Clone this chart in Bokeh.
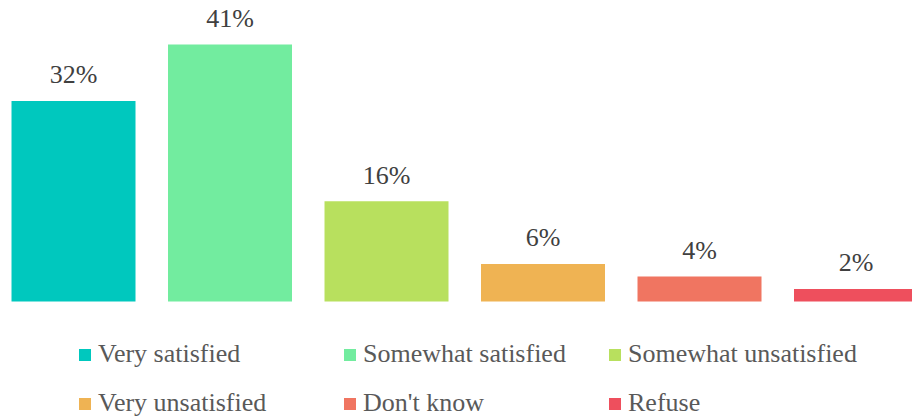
from bokeh.plotting import figure
from bokeh.models import ColumnDataSource, Range1d, Legend, LegendItem
from bokeh.core.properties import value
from bokeh.embed import file_html
from bokeh.resources import INLINE

categories = ["Very satisfied", "Somewhat satisfied", "Somewhat unsatisfied",
              "Very unsatisfied", "Don't know", "Refuse"]
values = [32, 41, 16, 6, 4, 2]
colors = ["#00C8BE", "#72EC9F", "#B8E05E", "#EFB353", "#F07561", "#EE4F5D"]
labels = [f"{v}%" for v in values]

FONT = "'Liberation Serif', serif"

src = ColumnDataSource(dict(x=list(range(len(values))), top=values,
                            color=colors, label=labels, cat=categories))

p = figure(width=912, height=416, output_backend="svg", toolbar_location=None,
           x_range=Range1d(-0.4665, 5.361), y_range=Range1d(-18.34, 48.01),
           min_border=0)
p.axis.visible = False
p.grid.visible = False
p.outline_line_color = None
p.background_fill_color = "white"

r = p.vbar(x="x", top="top", bottom=0, width=0.7923, fill_color="color",
           line_color=None, source=src)

p.text(x="x", y="top", text="label", source=src, text_align="center",
       text_baseline="alphabetic", y_offset=-26, text_font=value(FONT),
       text_font_size="26px", text_color="#404040")

def make_legend(idx, y):
    items = [LegendItem(label=categories[i], renderers=[r], index=i) for i in idx]
    lg = Legend(items=items, orientation="horizontal", location=(77, y),
                glyph_width=15, glyph_height=15, label_height=15,
                label_width=244, label_standoff=6, spacing=0, padding=0,
                margin=0, border_line_color=None, background_fill_alpha=0,
                label_text_font=FONT, label_text_font_size="26px",
                label_text_color="#595959")
    p.add_layout(lg, "center")

make_legend([0, 1, 2], 47)
make_legend([3, 4, 5], -2)

open("out.html", "w").write(file_html(p, INLINE))
